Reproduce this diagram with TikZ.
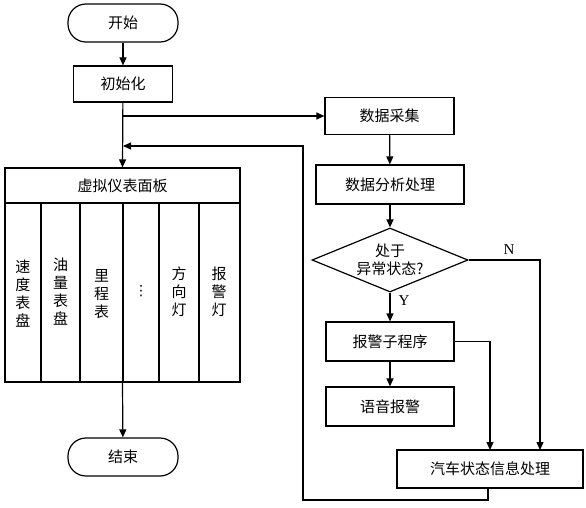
\documentclass[tikz,border=0pt]{standalone}
\usepackage{fontspec}
\setmainfont{Liberation Serif}
\newfontfamily\cjk{Noto Sans CJK SC}
\newfontfamily\dejavu{DejaVu Sans}
\usetikzlibrary{arrows.meta,shapes.geometric}
\begin{document}
\begin{tikzpicture}[x=1pt,y=-1pt,line width=1.2pt,
  cjkfont/.style={font=\cjk\fontsize{15}{18}\selectfont},
  box/.style={draw,rectangle,inner sep=0pt,cjkfont},
  term/.style={draw,rectangle,rounded corners=18pt,minimum width=110pt,minimum height=38pt,inner sep=0pt,cjkfont},
  arr/.style={-{Triangle[length=8pt,width=7pt]}},
  coltext/.style={align=center,inner sep=0pt,cjkfont},
  lbl/.style={font=\fontsize{15}{17}\selectfont,inner sep=0pt}]
\useasboundingbox (0,0) rectangle (586,508);
% left column
\node[term] (start) at (123,23) {开始};
\node[box,minimum width=99pt,minimum height=36pt] (init) at (123,84) {初始化};
\node[draw,rectangle,minimum width=235pt,minimum height=214pt,inner sep=0pt] (panel) at (122.5,275) {};
\node[cjkfont] (ptitle) at (122.5,185.5) {虚拟仪表面板};
\draw (panel.west |- 0,203) -- (panel.east |- 0,203);
\foreach \x in {41,80,123,159,199} \draw (\x,203) -- (\x,382);
\node[coltext] (c1) at (23,294) {速\\度\\表\\盘};
\node[coltext] (c2) at (60.5,292) {油\\量\\表\\盘};
\node[coltext] (c3) at (101.5,294) {里\\程\\表};
\node[inner sep=0pt,font=\dejavu\fontsize{14}{16}\selectfont] (c4) at (141,291) {⋮};
\node[coltext] (c5) at (179,292) {方\\向\\灯};
\node[coltext] (c6) at (219,292) {报\\警\\灯};
\node[term] (end) at (123,457) {结束};
% right column
\node[box,minimum width=129pt,minimum height=37pt] (collect) at (389.5,116) {数据采集};
\node[box,minimum width=148pt,minimum height=39pt] (analyse) at (390,184.5) {数据分析处理};
\node[draw,diamond,aspect=2.4,minimum width=156pt,minimum height=64pt,inner sep=0pt,align=center,cjkfont] (dec) at (390,260) {处于\\异常状态?};
\node[box,minimum width=128pt,minimum height=39pt] (alarm) at (390,341.5) {报警子程序};
\node[box,minimum width=128pt,minimum height=39pt] (voice) at (390,406.5) {语音报警};
\node[box,minimum width=186pt,minimum height=38pt] (info) at (490,469) {汽车状态信息处理};
% coordinates
\coordinate (br) at (123,116);
\coordinate (ret) at (123,146);
\coordinate (fb) at (488,488);
\coordinate (nin) at (540,450);
\coordinate (ain) at (490,450);
% connectors
\draw[arr] (start) -- (init);
\draw[arr] (init) -- (panel.north);
\draw[arr] (br) -- (collect.west);
\draw[arr] (collect) -- (analyse);
\draw[arr] (analyse) -- (dec);
\draw[arr] (dec) -- (alarm);
\draw[arr] (alarm) -- (voice);
\draw[arr] (dec.east) -| (nin);
\draw[arr] (alarm.east) -| (ain);
\draw[arr] (fb) -- (488,500) -- (303,500) -- (303,146) -- (ret);
\draw[arr] (panel.south) -- (end);
\node[lbl] (ylab) at (404,301) {Y};
\node[lbl] (nlab) at (509,250) {N};
\end{tikzpicture}
\end{document}
